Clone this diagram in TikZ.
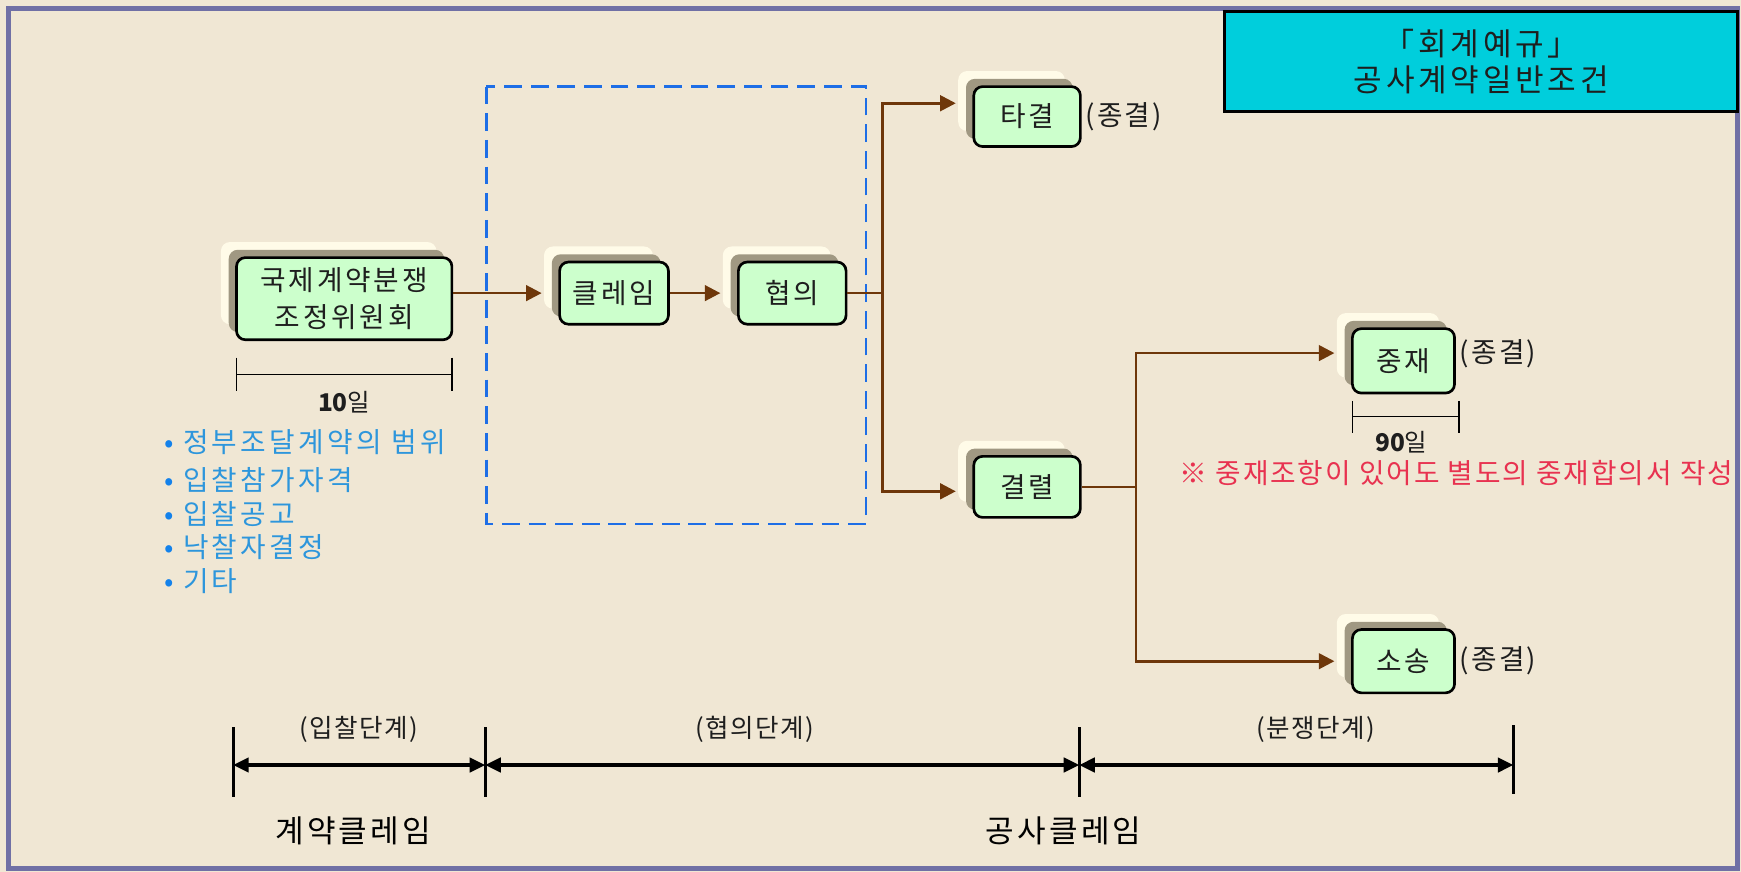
\documentclass[tikz,border=0pt]{standalone}
\usepackage{fontspec}
\setmainfont{Noto Sans CJK KR}
\usetikzlibrary{arrows.meta,shadows,calc}
\definecolor{bg}{RGB}{240,231,212}
\definecolor{framec}{RGB}{112,112,165}
\definecolor{titlec}{RGB}{0,206,220}
\definecolor{boxgreen}{RGB}{204,255,204}
\definecolor{shgray}{RGB}{160,152,130}
\definecolor{cream}{RGB}{255,251,232}
\definecolor{brownc}{RGB}{110,55,10}
\definecolor{dashblue}{RGB}{30,110,230}
\definecolor{listblue}{RGB}{45,150,220}
\definecolor{bulletblue}{RGB}{20,130,235}
\definecolor{redc}{RGB}{232,50,80}
\definecolor{textc}{RGB}{30,30,30}
\newcommand{\ls}[1]{\addfontfeature{LetterSpace=#1}}
\begin{document}
\begin{tikzpicture}[x=0.5pt,y=-0.5pt,
  box/.style={draw=black, line width=1.2pt, rounded corners=4pt, fill=boxgreen,
    inner sep=0pt, align=center, text=textc, font=\fontsize{12.5pt}{17pt}\selectfont\ls{10},
    general shadow={fill=cream, shadow xshift=-7pt, shadow yshift=7pt},
    general shadow={fill=shgray, shadow xshift=-3.5pt, shadow yshift=3.5pt}},
  conn/.style={draw=brownc, line width=1.2pt},
  arr/.style={conn, -{Triangle[length=7pt,width=7pt]}, shorten >=7.5pt},
  dim/.style={draw=black, line width=0.6pt},
  tick/.style={draw=black, line width=1.2pt},
  tl/.style={draw=black, line width=1.4pt, {Triangle[length=7pt,width=6.5pt]}-{Triangle[length=7pt,width=6.5pt]}},
  lbl/.style={inner sep=0pt, text=textc, font=\fontsize{11.5pt}{13pt}\selectfont\ls{6}},
  endl/.style={inner sep=0pt, anchor=west, text=textc, font=\fontsize{12.5pt}{14pt}\selectfont\ls{8}},
  item/.style={inner sep=0pt, anchor=west, text=listblue, font=\fontsize{12.5pt}{14pt}\selectfont\ls{12}},
  big/.style={inner sep=0pt, text=black, font=\fontsize{14pt}{16pt}\selectfont\ls{10}}
]
\useasboundingbox (0,0) rectangle (1568,785);
\fill[bg] (0,0) rectangle (1568,785);
\draw[framec, line width=2.2pt] (8,8) rectangle (1565,782);

% title box
\node[draw=black, line width=1.2pt, fill=titlec, minimum width=231pt, minimum height=45pt,
  inner sep=0pt, align=center, text=textc, font=\fontsize{14pt}{16.5pt}\selectfont\ls{12}]
  (title) at (1334,55.5) {「회계예규」\\공사계약일반조건};

% dashed region
\draw[dashblue, line width=1.2pt, dash pattern=on 8pt off 4pt] (438,78) rectangle (780,472);

% boxes
\node[box, minimum width=97pt, minimum height=37pt] (kuk) at (310,269) {국제계약분쟁\\조정위원회};
\node[box, minimum width=49pt, minimum height=28pt] (claim) at (553,264) {클레임};
\node[box, minimum width=48.5pt, minimum height=28pt] (hyup) at (713.5,264) {협의};
\node[box, minimum width=48pt, minimum height=27pt] (tagyul) at (925,105) {타결};
\node[box, minimum width=48pt, minimum height=27.5pt] (gyeol) at (925,438.5) {결렬};
\node[box, minimum width=46pt, minimum height=29pt] (jungjae) at (1264,325) {중재};
\node[box, minimum width=46pt, minimum height=28.5pt] (sosong) at (1264,595.5) {소송};

\node[endl] (e1) at ([xshift=1.5pt]tagyul.east) {(종결)};
\node[endl] (e2) at ([xshift=1.5pt,yshift=3pt]jungjae.east) {(종결)};
\node[endl] (e3) at ([xshift=1.5pt]sosong.east) {(종결)};

% connectors
\coordinate (s1) at (795,264);
\coordinate (s2) at (1023,438.5);
\draw[arr] (kuk.east |- claim.west) -- (claim.west);
\draw[arr] (claim.east) -- (hyup.west);
\draw[conn] (hyup.east) -- (s1);
\draw[arr] (s1) |- ([yshift=6pt]tagyul.west);
\draw[arr] (s1) |- ([yshift=-2pt]gyeol.west);
\draw[conn] (gyeol.east) -- (s2);
\draw[arr] (s2) |- ([yshift=3.5pt]jungjae.west);
\draw[arr] (s2) |- (sosong.west);

% 10 days
\draw[dim] (213,337) -- (407,337);
\draw[dim] (213,322) -- (213,352);
\draw[dim] (407,322) -- (407,352);
\node[lbl, font=\fontsize{11pt}{12pt}\selectfont] (d10) at (310,362) {\textbf{10}일};

% 90 days
\draw[dim] (1218,375) -- (1314,375);
\draw[dim] (1218,361) -- (1218,390);
\draw[dim] (1314,361) -- (1314,390);
\node[lbl, font=\fontsize{11pt}{12pt}\selectfont] (d90) at (1262,398) {\textbf{90}일};

% red note
\node[inner sep=0pt, anchor=west, text=redc, font=\fontsize{12.5pt}{14pt}\selectfont\ls{7}]
  (note) at (1062,426) {※ 중재조항이 있어도 별도의 중재합의서 작성};

% blue list
\node[item] (i1) at (148,398) {{\color{bulletblue}•}\hspace{4pt}정부조달계약의 범위};
\node[item] (i2) at (148,432) {{\color{bulletblue}•}\hspace{4pt}입찰참가자격};
\node[item] (i3) at (148,463) {{\color{bulletblue}•}\hspace{4pt}입찰공고};
\node[item] (i4) at (148,493) {{\color{bulletblue}•}\hspace{4pt}낙찰자결정};
\node[item] (i5) at (148,523) {{\color{bulletblue}•}\hspace{4pt}기타};

% timeline
\coordinate (t1) at (210,689);
\coordinate (t2) at (437,689);
\coordinate (t3) at (972,689);
\coordinate (t4) at (1363,689);
\draw[tick] (210,655) -- (210,718);
\draw[tick] (437,655) -- (437,718);
\draw[tick] (972,655) -- (972,718);
\draw[tick] (1363,653) -- (1363,715);
\draw[tl] (t1) -- (t2);
\draw[tl] (t2) -- (t3);
\draw[tl] (t3) -- (t4);
\node[lbl] (p1) at (323,657) {(입찰단계)};
\node[lbl] (p2) at (680,657) {(협의단계)};
\node[lbl] (p3) at (1185,657) {(분쟁단계)};
\node[big] (c1) at (318,748) {계약클레임};
\node[big] (c2) at (958,748) {공사클레임};
\end{tikzpicture}
\end{document}
